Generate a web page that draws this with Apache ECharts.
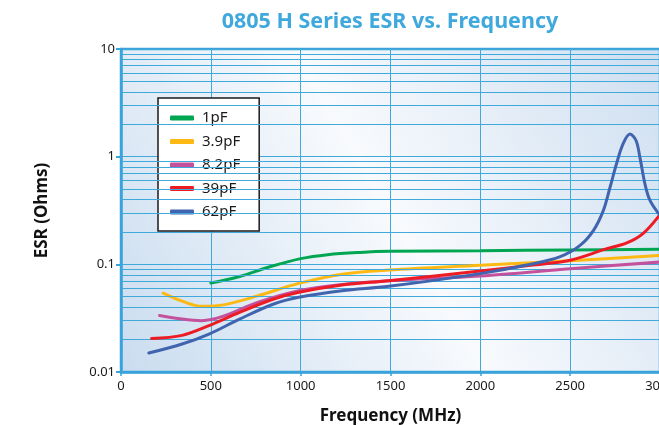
<!DOCTYPE html>
<html>
<head>
<meta charset="utf-8">
<script src="https://cdn.jsdelivr.net/npm/echarts@6/dist/echarts.min.js"></script>
<style>
html,body{margin:0;padding:0;background:#fff;}
#c{width:659px;height:425px;}
</style>
</head>
<body>
<div id="c"></div>
<script>
// ---- data ----
var seriesNames = ['1pF', '3.9pF', '8.2pF', '39pF', '62pF'];
var xTicks = [0, 500, 1000, 1500, 2000, 2500, 3000];
var yTicks = [0.01, 0.1, 1, 10];
var minorGrid = [0.02,0.03,0.04,0.05,0.06,0.07,0.08,0.09,
                 0.2,0.3,0.4,0.5,0.6,0.7,0.8,0.9,
                 2,3,4,5,6,7,8,9];

var freq1pF = [500, 660, 820, 1000, 1150, 1330, 1500, 2000, 2500, 3000];
var esr1pF  = [0.067, 0.077, 0.094, 0.113, 0.123, 0.129, 0.132, 0.134, 0.136, 0.138];

var freq3p9pF = [235, 340, 450, 570, 760, 990, 1230, 1490, 2000, 2500, 3000];
var esr3p9pF  = [0.054, 0.0455, 0.0408, 0.042, 0.051, 0.0665, 0.081, 0.0885, 0.098, 0.108, 0.121];

var freq8p2pF = [215, 340, 450, 570, 760, 990, 1230, 1490, 2000, 2500, 3000];
var esr8p2pF  = [0.0335, 0.031, 0.030, 0.033, 0.0443, 0.0569, 0.065, 0.0705, 0.078, 0.091, 0.105];

var freq39pF = [170, 340, 490, 660, 850, 990, 1230, 1490, 2000, 2280, 2500, 2700, 2815, 2905, 3000];
var esr39pF  = [0.0205, 0.0219, 0.027, 0.0358, 0.0476, 0.055, 0.0643, 0.0705, 0.0865, 0.098, 0.109, 0.139, 0.158, 0.193, 0.29];

var freq62pF = [155, 340, 490, 660, 850, 990, 1230, 1490, 2000, 2280, 2445, 2555, 2630, 2685, 2722, 2758, 2795, 2833, 2866, 2888, 2916, 2945, 3000];
var esr62pF  = [0.015, 0.0182, 0.0225, 0.031, 0.0428, 0.0494, 0.0569, 0.0625, 0.082, 0.100, 0.118, 0.150, 0.207, 0.317, 0.52, 0.86, 1.32, 1.62, 1.42, 0.99, 0.56, 0.39, 0.285];

// ---- build ----
var colors = ['#00a651', '#fdb913', '#c4519c', '#ed1c24', '#4064ae'];
var freqs = [freq1pF, freq3p9pF, freq8p2pF, freq39pF, freq62pF];
var esrs = [esr1pF, esr3p9pF, esr8p2pF, esr39pF, esr62pF];
function pairs(xs, ys){ return xs.map(function(x,i){ return [x, ys[i]]; }); }

var gridBlue = '#3fa9dc';
var axisBlue = '#3aa3da';
var font = 'Noto Sans';

var chart = echarts.init(document.getElementById('c'), null, {renderer:'canvas'});

var series = [{
  name: '_grid',
  type: 'line',
  data: [[0, 1]],
  showSymbol: false,
  lineStyle: {opacity: 0},
  silent: true,
  z: 1,
  animation: false,
  markLine: {
    silent: true,
    animation: false,
    symbol: ['none', 'none'],
    label: {show: false},
    lineStyle: {color: gridBlue, width: 1, type: 'solid'},
    emphasis: {disabled: true},
    data: minorGrid.map(function(v){ return {yAxis: v}; })
  }
}];
seriesNames.forEach(function(n, i){
  series.push({
    name: n,
    type: 'line',
    data: pairs(freqs[i], esrs[i]),
    smooth: 0.35,
    showSymbol: false,
    symbol: 'none',
    z: 3 + i,
    lineStyle: {color: colors[i], width: 3, cap: 'round'},
    itemStyle: {color: colors[i]},
    animation: false
  });
});

chart.setOption({
  animation: false,
  title: {
    text: '0805 H Series ESR vs. Frequency',
    left: 390,
    top: 11,
    textAlign: 'center',
    padding: 0,
    textStyle: {fontFamily: font, fontWeight: 'bold', fontSize: 21.5, color: '#3fa8dc'}
  },
  legend: {
    data: seriesNames.map(function(n){ return {name: n, icon: 'roundRect'}; }),
    orient: 'vertical',
    left: 158,
    top: 98,
    padding: [12, 19, 11, 12],
    itemWidth: 24,
    itemHeight: 5,
    itemGap: 7.5,
    backgroundColor: '#ffffff',
    borderColor: '#1a1a1a',
    borderWidth: 1.5,
    borderRadius: 0,
    selectedMode: false,
    textStyle: {fontFamily: font, fontSize: 15, color: '#1a1a1a', lineHeight: 16, padding: [0, 0, 0, 3]}
  },
  grid: {
    left: 121, top: 49, right: -1, bottom: 53,
    outerBoundsMode: 'none',
    containLabel: false,
    show: true,
    backgroundColor: new echarts.graphic.LinearGradient(0, 1, 1, 0, [
      {offset: 0, color: '#c9dcef'},
      {offset: 0.5, color: '#f8fafd'},
      {offset: 1, color: '#cddef0'}
    ]),
    borderColor: axisBlue,
    borderWidth: 2.5
  },
  xAxis: {
    type: 'value',
    min: 0, max: 3000, interval: 500,
    name: 'Frequency (MHz)',
    nameLocation: 'middle',
    nameGap: 36,
    nameTextStyle: {fontFamily: font, fontWeight: 'bold', fontSize: 17, color: '#111'},
    axisLine: {show: true, lineStyle: {color: axisBlue, width: 2.5}},
    axisTick: {show: true, length: 4, lineStyle: {color: axisBlue, width: 1.5}},
    axisLabel: {fontFamily: font, fontSize: 13, color: '#1a1a1a', margin: 8,
      formatter: function(v){ return xTicks.indexOf(v) >= 0 ? String(v) : ''; }},
    splitLine: {show: true, lineStyle: {color: gridBlue, width: 1}}
  },
  yAxis: {
    type: 'log',
    logBase: 10,
    min: 0.01, max: 10,
    name: 'ESR (Ohms)',
    nameLocation: 'middle',
    nameGap: 70,
    nameTextStyle: {fontFamily: font, fontWeight: 'bold', fontSize: 17, color: '#111'},
    axisLine: {show: true, lineStyle: {color: axisBlue, width: 2.5}},
    axisTick: {show: true, length: 5, lineStyle: {color: axisBlue, width: 2}},
    axisLabel: {fontFamily: font, fontSize: 13, color: '#1a1a1a', margin: 6,
      formatter: function(v){
        for (var i = 0; i < yTicks.length; i++) {
          if (Math.abs(v - yTicks[i]) / yTicks[i] < 1e-6) return String(yTicks[i]);
        }
        return '';
      }},
    splitLine: {show: true, lineStyle: {color: gridBlue, width: 1}}
  },
  series: series
});
</script>
</body>
</html>
